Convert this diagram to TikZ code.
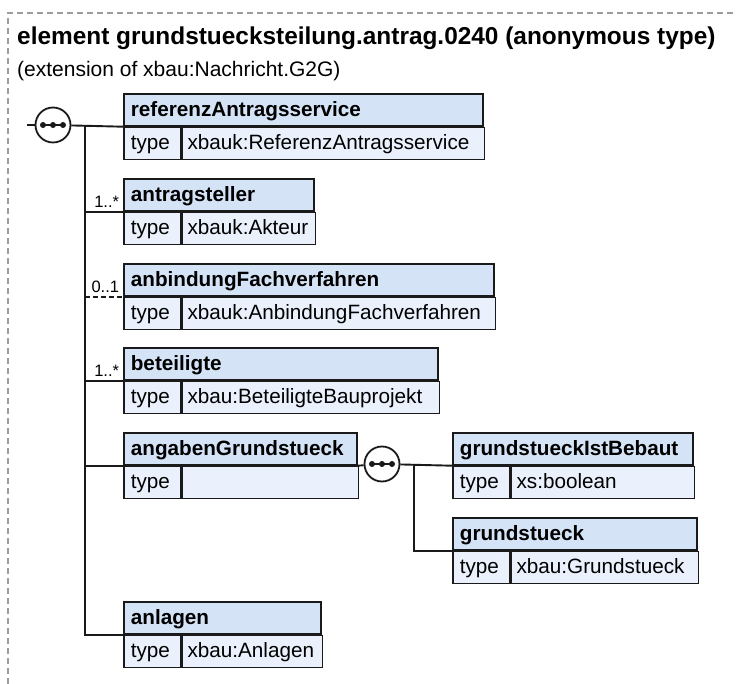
\documentclass[tikz,border=0pt]{standalone}
\usepackage{fontspec}
\setmainfont{Liberation Sans}
\usetikzlibrary{positioning}
\definecolor{hdrfill}{HTML}{D5E3F7}
\definecolor{typefill}{HTML}{EAF1FC}
\definecolor{edge}{HTML}{1A1A1A}
\definecolor{frame}{HTML}{9C9C9C}

% element box: name, x, y, width, title, type
\newcommand{\elem}[6]{%
  \pgfmathsetmacro{\hw}{#4-14}%
  \pgfmathsetmacro{\vw}{#4-67}%
  \node[hdr, text width=\hw pt, anchor=north west] (#1) at (#2,#3) {#5};
  \node[tcell, anchor=north west] (#1-t) at (#1.south west) {type};
  \node[vcell, text width=\vw pt, anchor=north west] (#1-v) at (#1-t.north east) {#6};
}

\begin{document}
\begin{tikzpicture}[
  x=1pt, y=-1pt,
  cell/.style={draw=edge, line width=1.7pt, minimum height=32pt, inner ysep=2pt,
    text height=15.5pt, text depth=3pt, align=left, font=\fontsize{20.7}{24}\selectfont},
  hdr/.style={cell, fill=hdrfill, inner xsep=7pt, font=\fontsize{20.7}{24}\selectfont\bfseries},
  tcell/.style={cell, fill=typefill, inner xsep=7pt, text width=43pt},
  vcell/.style={cell, fill=typefill, inner xsep=5pt},
  seq/.style={circle, draw=edge, line width=1.8pt, fill=white, minimum size=35pt, inner sep=0pt},
  wire/.style={draw=edge, line width=1.9pt},
  opt/.style={wire, dash pattern=on 5pt off 3pt},
  mult/.style={inner sep=0pt, anchor=base east, xshift=-3pt, yshift=4pt, font=\fontsize{16.5}{18}\selectfont}
]
\useasboundingbox (0,0) rectangle (737,684);
\draw[frame, line width=1.3pt, dash pattern=on 6pt off 4pt] (8,684) -- (8,13) -- (737,13);

\node[anchor=base west, inner sep=0pt, font=\fontsize{24.4}{28}\selectfont\bfseries] (title) at (17,45)
  {element grundstuecksteilung.antrag.0240 (anonymous type)};
\node[anchor=base west, inner sep=0pt, font=\fontsize{21}{25}\selectfont] (ext) at (17,77)
  {(extension of xbau:Nachricht.G2G)};

\elem{refa}{123}{93}{359}{referenzAntragsservice}{xbauk:ReferenzAntragsservice}
\elem{antr}{123}{178}{190}{antragsteller}{xbauk:Akteur}
\elem{anbi}{123}{263}{370}{anbindungFachverfahren}{xbauk:AnbindungFachverfahren}
\elem{bete}{123}{347}{314}{beteiligte}{xbau:BeteiligteBauprojekt}
\elem{anga}{123}{432}{233}{angabenGrundstueck}{}
\elem{anla}{123}{601}{197}{anlagen}{xbau:Anlagen}
\elem{gibb}{452}{432}{240}{grundstueckIstBebaut}{xs:boolean}
\elem{grst}{452}{517}{244}{grundstueck}{xbau:Grundstueck}

\node[seq] (seq1) at (53,125) {};
\node[seq] (seq2) at (382,464) {};
\foreach \s in {seq1, seq2} {
  \draw[edge, line width=1.5pt] ([xshift=-10pt]\s.center) -- ([xshift=10pt]\s.center);
  \foreach \dx in {-10,0,10}
    \fill[edge] ([xshift=\dx pt]\s.center) circle (3pt);
}

\coordinate (stub) at (27,125);
\coordinate (bus) at (85,125);
\coordinate (bus2) at (414,464);

\draw[wire] (stub) -- (seq1);
\draw[wire] (seq1) -- (refa.south west);
\draw[wire] (bus) |- (anla.south west);
\draw[wire] (bus |- antr.south west) -- (antr.south west) node[mult] {1..*};
\draw[opt] (bus |- anbi.south west) -- (anbi.south west) node[mult] {0..1};
\draw[wire] (bus |- bete.south west) -- (bete.south west) node[mult] {1..*};
\draw[wire] (bus |- anga.south west) -- (anga.south west);
\draw[wire] (anga.south east) -- (seq2);
\draw[wire] (seq2) -- (gibb.south west);
\draw[wire] (bus2) |- (grst.south west);
\end{tikzpicture}
\end{document}
